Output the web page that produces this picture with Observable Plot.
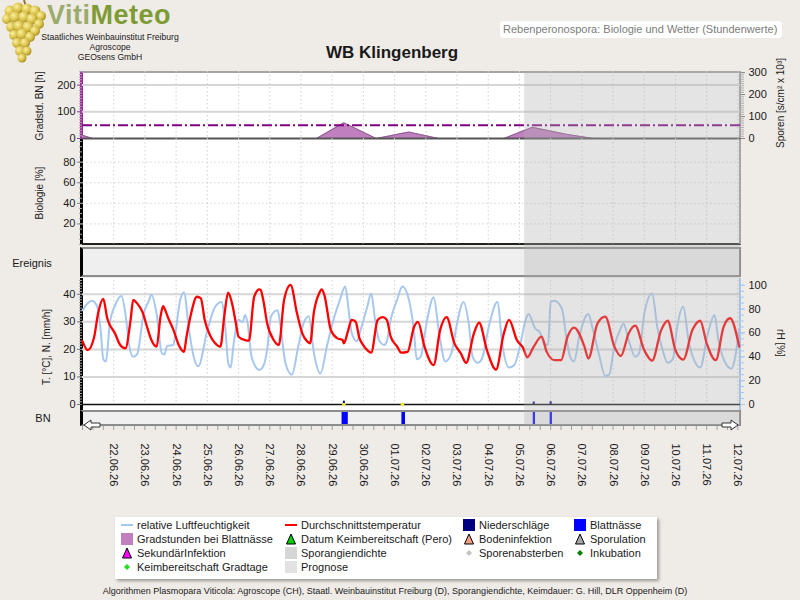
<!DOCTYPE html>
<html lang="de">
<head>
<meta charset="utf-8">
<title>WB Klingenberg – Rebenperonospora</title>
<script src="https://cdn.jsdelivr.net/npm/d3@7"></script>
<script src="https://cdn.jsdelivr.net/npm/@observablehq/plot@0.6"></script>
<style>
  html, body { margin: 0; padding: 0; background: #efebe7; }
  #chart { position: relative; width: 800px; height: 600px; overflow: hidden; background: #efebe7;
           font-family: "Liberation Sans", Arial, sans-serif; color: #1a1a1a; }
  #chart > * { position: absolute; }
  .box { box-sizing: border-box; }
  .lab { white-space: nowrap; font-size: 10px; line-height: 12px; }
  .legend { left: 115px; top: 517px; width: 542px; height: 62px; background: #fff;
            box-shadow: 2px 2px 3px rgba(0,0,0,.35); font-size: 11px; }
  .legend .item { position: absolute; height: 14px; line-height: 14px; white-space: nowrap; }
  .legend .item svg { position: absolute; left: -16px; top: 1px; }
</style>
</head>
<body>
<div id="chart">
  <!-- logo -->
  <svg style="left:0;top:0" width="50" height="66" viewBox="0 0 50 66">
    <defs>
      <radialGradient id="berry" cx="35%" cy="35%" r="70%">
        <stop offset="0" stop-color="#fbf0a0"/><stop offset="0.6" stop-color="#d9c24a"/><stop offset="1" stop-color="#a48a22"/>
      </radialGradient>
    </defs>
    <path d="M24 0 L26 7" stroke="#8a7a30" stroke-width="2"/>
    <g fill="url(#berry)">
      <circle cx="10" cy="11" r="5.5"/><circle cx="18" cy="8" r="5.5"/><circle cx="27" cy="9" r="5.5"/><circle cx="35" cy="11" r="5.5"/><circle cx="41" cy="16" r="5"/>
      <circle cx="7" cy="19" r="5"/><circle cx="15" cy="17" r="5.5"/><circle cx="24" cy="17" r="5.5"/><circle cx="32" cy="19" r="5.5"/><circle cx="39" cy="24" r="5"/>
      <circle cx="11" cy="27" r="5"/><circle cx="19" cy="26" r="5.5"/><circle cx="28" cy="27" r="5.5"/><circle cx="35" cy="31" r="5"/>
      <circle cx="14" cy="35" r="5"/><circle cx="22" cy="34" r="5.5"/><circle cx="30" cy="37" r="5"/>
      <circle cx="17" cy="43" r="5"/><circle cx="25" cy="43" r="5"/><circle cx="20" cy="51" r="5"/><circle cx="27" cy="51" r="4.5"/><circle cx="22" cy="58" r="4.5"/>
    </g>
  </svg>
  <div style="left:47px;top:0;font:bold 27px 'Liberation Sans',Arial,sans-serif;line-height:31px;letter-spacing:0.5px">
    <span style="color:#9aab6c">Viti</span><span style="color:#7f9c34">Meteo</span>
  </div>
  <div style="left:30px;top:31.5px;width:160px;text-align:center;font-size:8.6px;line-height:10px">
    Staatliches Weinbauinstitut Freiburg<br>Agroscope<br>GEOsens GmbH
  </div>
  <div style="left:500px;top:21px;width:282px;height:17px;background:#fff;border-radius:4px;color:#7d7d7d;font-size:11px;line-height:17px;padding-left:3px;box-sizing:border-box">Rebenperonospora: Biologie und Wetter (Stundenwerte)</div>
  <div style="left:292px;top:43px;width:200px;text-align:center;font-weight:bold;font-size:17px;line-height:20px">WB Klingenberg</div>

  <!-- panel boxes -->
  <div class="box" style="left:80px;top:71px;width:661px;height:68px;background:#fff;border-left:3px solid #9c2a9c;border-top:2px solid #a4a4a4;border-right:2px solid #a4a4a4"></div>
  <div class="box" style="left:80px;top:138px;width:661px;height:107px;background:#fff;border-left:3px solid #000;border-bottom:2px solid #222;border-right:2px solid #a4a4a4"></div>
  <div class="box" style="left:80px;top:247px;width:661px;height:30px;background:#efefef;border:2px solid #8c8c8c;border-left:3px solid #000"></div>
  <div class="box" style="left:80px;top:278px;width:661px;height:132px;background:#fff;border-left:3px solid #000;border-right:2px solid #a6c8f0"></div>
  <div class="box" style="left:80px;top:410px;width:661px;height:16px;background:#f0f0f0;border:2px solid #8c8c8c;border-left:3px solid #000"></div>

  <!-- legend -->
  <div class="legend">
    <div class="item" style="left:22px;top:0.5px"><svg width="12" height="12"><line x1="0" x2="12" y1="6" y2="6" stroke="#a6c8f0" stroke-width="2"/></svg>relative Luftfeuchtigkeit</div>
    <div class="item" style="left:22px;top:14.5px"><svg width="12" height="12"><rect width="12" height="12" fill="#c080c0"/></svg>Gradstunden bei Blattnässe</div>
    <div class="item" style="left:22px;top:28.5px"><svg width="12" height="12"><path d="M6 1 L10.5 11 L1.5 11 Z" fill="#ff00ff" stroke="#000"/></svg>SekundärInfektion</div>
    <div class="item" style="left:22px;top:43px"><svg width="12" height="12"><path d="M6 3 L9 6 L6 9 L3 6 Z" fill="#22dd22"/></svg>Keimbereitschaft Gradtage</div>

    <div class="item" style="left:186px;top:0.5px"><svg width="12" height="12"><line x1="0" x2="12" y1="6" y2="6" stroke="#ff0000" stroke-width="2"/></svg>Durchschnittstemperatur</div>
    <div class="item" style="left:186px;top:14.5px"><svg width="12" height="12"><path d="M6 1 L10.5 11 L1.5 11 Z" fill="#00cc00" stroke="#000"/></svg>Datum Keimbereitschaft (Pero)</div>
    <div class="item" style="left:186px;top:28.5px"><svg width="12" height="12"><rect width="12" height="12" fill="#d6d6d6"/></svg>Sporangiendichte</div>
    <div class="item" style="left:186px;top:43px"><svg width="12" height="12"><rect width="12" height="12" fill="#e2e2e2"/></svg>Prognose</div>

    <div class="item" style="left:364px;top:0.5px"><svg width="12" height="12"><rect width="12" height="12" fill="#000080"/></svg>Niederschläge</div>
    <div class="item" style="left:364px;top:14.5px"><svg width="12" height="12"><path d="M6 1 L10.5 11 L1.5 11 Z" fill="#f4a080" stroke="#000"/></svg>Bodeninfektion</div>
    <div class="item" style="left:364px;top:28.5px"><svg width="12" height="12"><path d="M6 3 L9 6 L6 9 L3 6 Z" fill="#c4c4c4"/></svg>Sporenabsterben</div>

    <div class="item" style="left:475px;top:0.5px"><svg width="12" height="12"><rect width="12" height="12" fill="#0000ff"/></svg>Blattnässe</div>
    <div class="item" style="left:475px;top:14.5px"><svg width="12" height="12"><path d="M6 1 L10.5 11 L1.5 11 Z" fill="#a8a8a8" stroke="#000"/></svg>Sporulation</div>
    <div class="item" style="left:475px;top:28.5px"><svg width="12" height="12"><path d="M6 3 L9 6 L6 9 L3 6 Z" fill="#008000"/></svg>Inkubation</div>
  </div>
  <div style="left:0;top:585px;width:790px;text-align:center;font-size:9px;line-height:12px">Algorithmen Plasmopara Viticola: Agroscope (CH), Staatl. Weinbauinstitut Freiburg (D), Sporangiendichte, Keimdauer: G. Hill, DLR Oppenheim (D)</div>
</div>

<script>
// ---- time window and tick labels ----
const rangeStart = "21.06.26 00";
const rangeEnd = "12.07.26 02";
const prognoseStart = "05.07.26 04";
const dateLabels = ["22.06.26", "23.06.26", "24.06.26", "25.06.26", "26.06.26", "27.06.26", "28.06.26",
  "29.06.26", "30.06.26", "01.07.26", "02.07.26", "03.07.26", "04.07.26", "05.07.26", "06.07.26",
  "07.07.26", "08.07.26", "09.07.26", "10.07.26", "11.07.26", "12.07.26"];
const gradTicks = [0, 100, 200];
const sporenTicks = [0, 100, 200, 300];
const bioTicks = [20, 40, 60, 80];
const tempTicks = [0, 10, 20, 30, 40];
const rhTicks = [0, 20, 40, 60, 80, 100];
const gradThreshold = 50;

// ---- Durchschnittstemperatur [°C] ----
const temperature = [
  ["21.06.26 00", 23.0], ["21.06.26 04", 19.7], ["21.06.26 09", 24.6], ["21.06.26 12", 33.1], ["21.06.26 16", 38.3],
  ["21.06.26 19", 31.3], ["22.06.26 01", 25.8], ["22.06.26 05", 21.6], ["22.06.26 09", 20.4], ["22.06.26 13", 30.7],
  ["22.06.26 15", 38.0], ["22.06.26 18", 36.7], ["22.06.26 22", 33.7], ["23.06.26 02", 27.6], ["23.06.26 05", 23.4],
  ["23.06.26 09", 21.0], ["23.06.26 12", 31.9], ["23.06.26 14", 35.7], ["23.06.26 15", 34.9], ["23.06.26 18", 31.3],
  ["23.06.26 22", 27.0], ["24.06.26 02", 21.6], ["24.06.26 06", 19.1], ["24.06.26 08", 24.6], ["24.06.26 11", 31.9],
  ["24.06.26 16", 39.1], ["24.06.26 19", 38.5], ["24.06.26 22", 30.7], ["25.06.26 02", 25.2], ["25.06.26 06", 22.2],
  ["25.06.26 10", 21.0], ["25.06.26 13", 31.9], ["25.06.26 16", 40.6], ["25.06.26 19", 36.7], ["25.06.26 22", 29.4],
  ["26.06.26 00", 24.6], ["26.06.26 05", 23.4], ["26.06.26 08", 23.2], ["26.06.26 12", 39.1], ["26.06.26 16", 41.8],
  ["26.06.26 17", 41.6], ["26.06.26 19", 37.9], ["26.06.26 22", 29.5], ["27.06.26 03", 23.4], ["27.06.26 07", 21.6],
  ["27.06.26 11", 37.9], ["27.06.26 16", 43.4], ["27.06.26 21", 33.0], ["28.06.26 01", 25.8], ["28.06.26 05", 22.8],
  ["28.06.26 07", 22.2], ["28.06.26 10", 33.7], ["28.06.26 14", 40.4], ["28.06.26 16", 41.8], ["28.06.26 18", 39.7],
  ["28.06.26 23", 27.0], ["29.06.26 04", 24.0], ["29.06.26 08", 23.4], ["29.06.26 09", 22.2], ["29.06.26 12", 26.4],
  ["29.06.26 15", 30.7], ["29.06.26 18", 30.1], ["29.06.26 21", 24.0], ["29.06.26 23", 22.2], ["30.06.26 03", 19.7],
  ["30.06.26 06", 18.8], ["30.06.26 11", 30.7], ["30.06.26 15", 31.7], ["30.06.26 18", 30.7], ["30.06.26 21", 24.6],
  ["01.07.26 02", 21.0], ["01.07.26 05", 18.8], ["01.07.26 10", 19.1], ["01.07.26 15", 28.2], ["01.07.26 18", 30.0],
  ["01.07.26 23", 21.0], ["02.07.26 06", 14.3], ["02.07.26 11", 27.0], ["02.07.26 16", 31.7], ["02.07.26 22", 22.2],
  ["03.07.26 03", 18.5], ["03.07.26 07", 15.1], ["03.07.26 13", 25.8], ["03.07.26 17", 29.7], ["03.07.26 23", 19.7],
  ["04.07.26 06", 12.7], ["04.07.26 12", 25.8], ["04.07.26 16", 30.7], ["04.07.26 22", 23.4], ["05.07.26 03", 20.4],
  ["05.07.26 06", 17.1], ["05.07.26 11", 21.0], ["05.07.26 17", 24.6], ["05.07.26 21", 19.1], ["06.07.26 03", 16.1],
  ["06.07.26 08", 16.1], ["06.07.26 13", 24.6], ["06.07.26 18", 27.9], ["07.07.26 02", 21.0], ["07.07.26 05", 16.7],
  ["07.07.26 12", 29.4], ["07.07.26 18", 31.9], ["08.07.26 01", 21.0], ["08.07.26 06", 17.6], ["08.07.26 12", 25.8],
  ["08.07.26 17", 28.6], ["09.07.26 00", 19.7], ["09.07.26 06", 15.9], ["09.07.26 13", 27.0], ["09.07.26 18", 30.4],
  ["10.07.26 00", 19.7], ["10.07.26 06", 16.3], ["10.07.26 13", 27.0], ["10.07.26 19", 30.4], ["11.07.26 00", 22.2],
  ["11.07.26 07", 16.1], ["11.07.26 13", 28.2], ["11.07.26 18", 31.3], ["12.07.26 01", 21.0]
];

// ---- relative Luftfeuchtigkeit [%] ----
const humidity = [
  ["21.06.26 00", 79], ["21.06.26 04", 85], ["21.06.26 07", 87], ["21.06.26 11", 83], ["21.06.26 14", 62],
  ["21.06.26 16", 38], ["21.06.26 18", 36], ["21.06.26 21", 68], ["22.06.26 01", 83], ["22.06.26 06", 91],
  ["22.06.26 09", 76], ["22.06.26 12", 49], ["22.06.26 15", 40], ["22.06.26 18", 42], ["22.06.26 23", 76],
  ["23.06.26 03", 87], ["23.06.26 05", 92], ["23.06.26 09", 76], ["23.06.26 13", 43], ["23.06.26 15", 42],
  ["23.06.26 17", 49], ["23.06.26 22", 50], ["23.06.26 23", 56], ["24.06.26 03", 87], ["24.06.26 06", 94],
  ["24.06.26 10", 62], ["24.06.26 14", 38], ["24.06.26 17", 32], ["25.06.26 00", 62], ["25.06.26 06", 82],
  ["25.06.26 11", 86], ["25.06.26 14", 62], ["25.06.26 16", 35], ["25.06.26 18", 31], ["25.06.26 20", 49],
  ["26.06.26 00", 71], ["26.06.26 03", 69], ["26.06.26 05", 75], ["26.06.26 07", 68], ["26.06.26 10", 40],
  ["26.06.26 16", 29], ["26.06.26 19", 32], ["26.06.26 22", 46], ["27.06.26 01", 74], ["27.06.26 06", 79],
  ["27.06.26 08", 68], ["27.06.26 12", 35], ["27.06.26 17", 25], ["27.06.26 22", 49], ["28.06.26 02", 68],
  ["28.06.26 06", 74], ["28.06.26 10", 43], ["28.06.26 15", 26], ["28.06.26 20", 49], ["29.06.26 01", 71],
  ["29.06.26 06", 88], ["29.06.26 10", 99], ["29.06.26 13", 76], ["29.06.26 15", 60], ["29.06.26 19", 53],
  ["29.06.26 22", 63], ["30.06.26 03", 82], ["30.06.26 06", 93], ["30.06.26 09", 71], ["30.06.26 12", 54],
  ["30.06.26 16", 50], ["30.06.26 18", 53], ["30.06.26 21", 71], ["01.07.26 02", 88], ["01.07.26 06", 99],
  ["01.07.26 11", 88], ["01.07.26 15", 60], ["01.07.26 17", 38], ["01.07.26 20", 40], ["02.07.26 01", 71],
  ["02.07.26 06", 90], ["02.07.26 10", 62], ["02.07.26 15", 36], ["02.07.26 20", 44], ["03.07.26 00", 68],
  ["03.07.26 05", 86], ["03.07.26 09", 68], ["03.07.26 12", 40], ["03.07.26 16", 35], ["03.07.26 19", 38],
  ["04.07.26 01", 68], ["04.07.26 07", 86], ["04.07.26 11", 49], ["04.07.26 16", 31], ["04.07.26 20", 33],
  ["05.07.26 01", 52], ["05.07.26 04", 68], ["05.07.26 07", 76], ["05.07.26 12", 64], ["05.07.26 16", 60],
  ["05.07.26 19", 51], ["05.07.26 22", 50], ["06.07.26 00", 86], ["06.07.26 03", 87], ["06.07.26 06", 85],
  ["06.07.26 09", 79], ["06.07.26 12", 57], ["06.07.26 15", 40], ["06.07.26 18", 36], ["06.07.26 22", 57],
  ["07.07.26 03", 74], ["07.07.26 05", 76], ["07.07.26 08", 65], ["07.07.26 13", 43], ["07.07.26 18", 24],
  ["07.07.26 21", 25], ["08.07.26 01", 49], ["08.07.26 06", 64], ["08.07.26 08", 68], ["08.07.26 12", 54],
  ["08.07.26 17", 40], ["08.07.26 20", 43], ["09.07.26 00", 76], ["09.07.26 06", 93], ["09.07.26 10", 65],
  ["09.07.26 14", 46], ["09.07.26 18", 35], ["09.07.26 22", 38], ["10.07.26 01", 63], ["10.07.26 06", 82],
  ["10.07.26 10", 54], ["10.07.26 14", 38], ["10.07.26 19", 31], ["11.07.26 01", 60], ["11.07.26 06", 75],
  ["11.07.26 09", 54], ["11.07.26 13", 38], ["11.07.26 19", 30], ["11.07.26 21", 35], ["12.07.26 01", 63]
];

// ---- Gradstunden bei Blattnässe [h] ----
const gradstunden = [
  ["21.06.26 00", 12], ["21.06.26 08", 0], ["28.06.26 12", 0], ["29.06.26 09", 59], ["30.06.26 10", 0],
  ["01.07.26 11", 24], ["02.07.26 10", 0], ["04.07.26 12", 0], ["05.07.26 10", 42], ["06.07.26 13", 15],
  ["07.07.26 09", 0], ["12.07.26 02", 0]
];

// ---- Niederschläge [mm/h] ----
const niederschlag = [["29.06.26 09", 1.2], ["05.07.26 11", 0.9], ["06.07.26 00", 1.0]];
// ---- Blattnässe: Beginn, Dauer [h] ----
const blattnaesse = [["29.06.26 08", 4], ["01.07.26 06", 2], ["05.07.26 11", 1], ["06.07.26 00", 1]];
// ---- Nässe-Marker auf der Nulllinie ----
const feuchtMarker = ["29.06.26 09", "01.07.26 06"];

// ---------------------------------------------------------------
const FONT = '"Liberation Sans", Arial, sans-serif';
const chart = document.getElementById("chart");
const parseHour = d3.utcParse("%d.%m.%y %H");
const parseDay = d3.utcParse("%d.%m.%y");
const series = rows => rows.map(([t, v]) => ({t: parseHour(t), v}));

const T0 = parseHour(rangeStart), T1 = parseHour(rangeEnd);
const days = dateLabels.map(parseDay);
const eightHours = d3.utcHour.every(8).range(T0, T1);
const xScale = {type: "utc", domain: [T0, T1], axis: null};
const style = {background: "transparent", fontFamily: FONT, fontSize: "11px", color: "#1a1a1a", overflow: "visible"};
const dotted = {stroke: "#d2d2d2", strokeDasharray: "1.5,2.5"};

// one horizontal band of the chart, sharing the time axis
function layer(top, bottom, yDomain, marks, pad = 14) {
  const svg = Plot.plot({
    width: 800, height: bottom - top + 2 * pad,
    marginTop: pad, marginBottom: pad, marginLeft: 82, marginRight: 60,
    x: xScale, y: {domain: yDomain, axis: null},
    style, marks
  });
  svg.style.left = "0px";
  svg.style.top = (top - pad) + "px";
  chart.append(svg);
}

function label(text, cx, cy, angle = 0, size = 10) {
  const d = document.createElement("div");
  d.className = "lab";
  d.textContent = text;
  d.style.fontSize = size + "px";
  d.style.left = cx + "px";
  d.style.top = cy + "px";
  d.style.transform = `translate(-50%, -50%) rotate(${angle}deg)`;
  chart.append(d);
}

// ---- Gradstunden / Sporen ----
const grad = series(gradstunden);
const gradMax = 251, sporenMax = 305, k = gradMax / sporenMax;
layer(71, 138, [0, gradMax], [
  Plot.ruleY([100, 200], {stroke: "#d6d6d6", strokeWidth: 2}),
  Plot.ruleX(days, dotted),
  Plot.areaY(grad, {x: "t", y: "v", fill: "#c080c0"}),
  Plot.lineY(grad, {x: "t", y: "v", stroke: "#8e5a8e", strokeWidth: 1}),
  Plot.ruleY([gradThreshold], {stroke: "#800080", strokeWidth: 2, strokeDasharray: "10,3,2,3"}),
  Plot.ruleY([0], {stroke: "#555", strokeWidth: 2}),
  Plot.axisY({ticks: d3.range(0, gradMax, 10), tickSize: 3, stroke: "#b79ab7", fill: "none", label: null}),
  Plot.axisY({ticks: gradTicks, tickSize: 5, tickPadding: 2, stroke: "#a030a0", fill: "#1a1a1a", label: null}),
  Plot.axisY({anchor: "right", ticks: d3.range(0, sporenMax, 10).map(v => v * k), tickSize: 3, stroke: "#b0b0b0", fill: "none", label: null}),
  Plot.axisY({anchor: "right", ticks: sporenTicks.map(v => v * k), tickFormat: d => Math.round(d / k),
    tickSize: 4, tickPadding: 4, stroke: "#888", fill: "#1a1a1a", label: null})
]);

// ---- Biologie ----
layer(138, 244, [0, 103], [
  Plot.ruleY(bioTicks, dotted),
  Plot.ruleX(days, dotted),
  Plot.axisY({ticks: d3.range(0, 101, 5), tickSize: 3, stroke: "#aaa", fill: "none", label: null}),
  Plot.axisY({ticks: bioTicks, tickSize: 5, tickPadding: 2, stroke: "#888", fill: "#1a1a1a", label: null})
]);

// ---- Temperatur / Niederschlag / Luftfeuchte ----
const temp = series(temperature);
const rh = series(humidity);
const rain = series(niederschlag);
layer(280, 404, [0, 45], [
  Plot.ruleY([10, 20, 30, 40], {stroke: "#d6d6d6", strokeWidth: 2}),
  Plot.ruleX(days, dotted),
  Plot.axisY({ticks: d3.range(0, 46, 1), tickSize: 3, stroke: "#aaa", fill: "none", label: null}),
  Plot.axisY({ticks: tempTicks, tickSize: 5, tickPadding: 2, stroke: "#777", fill: "#1a1a1a", label: null})
]);
layer(280, 404, [0, 104], [
  Plot.lineY(rh, {x: "t", y: "v", stroke: "#a6c8f0", strokeWidth: 2, curve: "monotone-x"}),
  Plot.axisY({anchor: "right", ticks: d3.range(0, 101, 5), tickSize: 3, stroke: "#a6c8f0", fill: "none", label: null}),
  Plot.axisY({anchor: "right", ticks: rhTicks, tickSize: 4, tickPadding: 4, stroke: "#a6c8f0", fill: "#1a1a1a", label: null})
]);
layer(280, 404, [0, 45], [
  Plot.lineY(temp, {x: "t", y: "v", stroke: "#ff0000", strokeWidth: 2.3, curve: "monotone-x"}),
  Plot.ruleY([0], {stroke: "#111", strokeWidth: 1.5}),
  Plot.ruleX(rain, {x: "t", y1: 0, y2: "v", stroke: "#000080", strokeWidth: 2}),
  Plot.dot(feuchtMarker.map(parseHour), {x: d => d, y: 0, r: 1.8, fill: "#f5ec2a"})
]);

// ---- Blattnässe-Streifen ----
const bn = blattnaesse.map(([t, h]) => ({start: parseHour(t), end: d3.utcHour.offset(parseHour(t), h)}));
layer(412, 424, [0, 1], [
  Plot.rect(bn, {x1: "start", x2: "end", y1: 0, y2: 1, fill: "#0000ff", insetLeft: -0.5, insetRight: -0.5})
]);

// ---- Prognosezeitraum ----
layer(71, 425, [0, 1], [
  Plot.rect([{start: parseHour(prognoseStart), end: T1}], {x1: "start", x2: "end", y1: 0, y2: 1, fill: "#b0b0b0", fillOpacity: 0.34})
]);

// ---- Datumsachse ----
const dateAxis = Plot.plot({
  width: 800, height: 80, marginTop: 0, marginBottom: 70, marginLeft: 82, marginRight: 60,
  x: xScale, style,
  marks: [
    Plot.axisX({ticks: eightHours, tickSize: 4, stroke: "#a0a0a0", fill: "none", label: null}),
    Plot.axisX({ticks: days, tickSize: 0, tickPadding: 17, tickRotate: 90,
      tickFormat: d3.utcFormat("%d.%m.%y"), fill: "#1a1a1a", label: null})
  ]
});
dateAxis.style.left = "0px";
dateAxis.style.top = "416px";
chart.append(dateAxis);

// scroll arrows at the ends of the strip
const arrows = document.createElementNS("http://www.w3.org/2000/svg", "svg");
arrows.setAttribute("width", 800); arrows.setAttribute("height", 20);
arrows.style.left = "0px"; arrows.style.top = "415px";
arrows.innerHTML =
  '<path d="M84 10 L91 5 L91 8 L100 8 L100 12 L91 12 L91 15 Z" fill="#fff" stroke="#333" stroke-width="1"/>' +
  '<path d="M738 10 L731 5 L731 8 L722 8 L722 12 L731 12 L731 15 Z" fill="#fff" stroke="#333" stroke-width="1"/>';
chart.append(arrows);

// ---- axis titles ----
label("Gradstd. BN [h]", 40, 106, -90);
label("Biologie [%]", 40, 193, -90);
label("T. [°C], N. [mm/h]", 47, 347, -90);
label("Sporen [s/cm² x 10³]", 781, 103, -90);
label("rH [%]", 780, 343, 90);
label("Ereignis", 32, 263, 0, 11);
label("BN", 43, 418, 0, 11);
</script>
</body>
</html>
